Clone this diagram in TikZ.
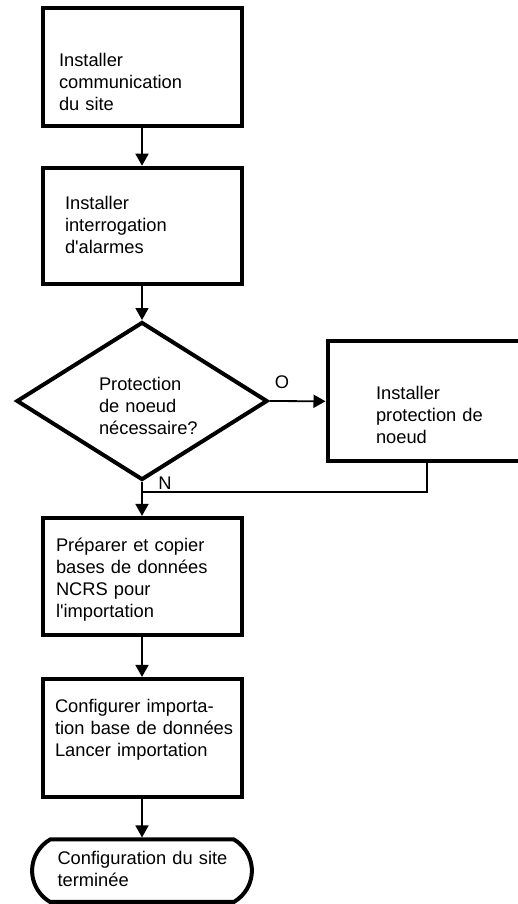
\documentclass[tikz,border=0pt]{standalone}
\usepackage{fontspec}
\setmainfont{Liberation Sans}
\usetikzlibrary{arrows.meta,shapes.geometric,shapes.misc}

\begin{document}
\begin{tikzpicture}[x=1pt,y=-1pt,font=\fontsize{18.3}{22}\selectfont,
	stepbox/.style={draw,line width=4pt,rectangle,minimum width=199pt,inner ysep=0pt,align=left},
	decision/.style={draw,line width=4pt,diamond,minimum width=251pt,minimum height=149pt,inner sep=0pt,align=left,text width=114pt,text height=11pt,text depth=33pt},
	endbox/.style={draw,line width=4pt,rounded rectangle,rounded rectangle arc length=120,minimum width=209pt,inner ysep=0pt,align=left},
	flow/.style={line width=1.8pt,-{Triangle[length=12pt,width=13pt]}},
	back/.style={line width=1.2pt}]
	\useasboundingbox (0,0) rectangle (518,904);
	\node[stepbox,text width=166pt,text height=58pt,text depth=60pt] (comm) at (142,67.5) {Installer\\communication\\du site};
	\node[stepbox,text width=154pt,text height=42pt,text depth=74pt] (alarm) at (142,225.7) {Installer\\interrogation\\d\textquotesingle alarmes};
	\node[decision] (need) at (142,401) {\leftskip=14pt Protection\\de noeud\\nécessaire?\par};
	\node[stepbox,text width=114pt,text height=58.5pt,text depth=61.5pt] (guard) at (427,401.3) {\leftskip=6pt Installer\\protection de\\noeud\par};
	\node[stepbox,text width=172pt,text height=34pt,text depth=83pt] (dbcopy) at (142,576.4) {Préparer et copier\\bases de données\\NCRS pour\\l\textquotesingle importation};
	\node[stepbox,text width=184pt,text height=34pt,text depth=84pt] (dbimport) at (142,737.9) {\leftskip=5pt Configurer importa-\\tion base de données\\Lancer importation\par};
	\node[endbox,text width=177pt,text height=25.5pt,text depth=37pt] (done) at (142,870.7) {\leftskip=4pt Configuration du site\\terminée\par};
	\node (yes) at (282,382) {O};
	\node (no) at (165,483) {N};
	\coordinate (merge) at (142,492);
	\draw[flow] (comm.south) -- (alarm.north);
	\draw[flow] (alarm.south) -- (need.north);
	\draw[flow] (need.east) -- (guard.west);
	\draw[flow] (need.south) -- (dbcopy.north);
	\draw[flow] (dbcopy.south) -- (dbimport.north);
	\draw[flow] (dbimport.south) -- (done.north);
	\draw[back] (guard.south) |- (merge);
\end{tikzpicture}
\end{document}
